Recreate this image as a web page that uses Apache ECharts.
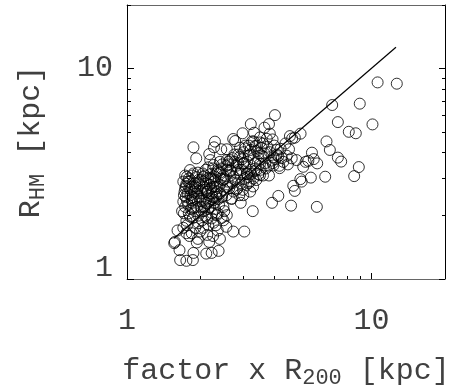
<!DOCTYPE html>
<html><head><meta charset="utf-8">
<script src="https://cdn.jsdelivr.net/npm/echarts@6/dist/echarts.min.js"></script>
<style>html,body{margin:0;padding:0;background:#fff}#c{width:454px;height:385px}</style>
</head><body><div id="c"></div>
<script>
// ---- data ----
const xVals = [
10.6,12.7,6.91,8.96,7.29,8.08,8.63,10.1,6.55,6.76,7.29,7.52,8.88,8.50,6.47,5.65,5.98,4.69,4.16,3.92,
4.86,4.79,5.18,5.12,3.27,3.02,3.81,4.03,3.21,3.81,3.65,3.31,2.97,3.84,3.94,3.73,3.50,4.64,4.86,5.13,
4.74,5.71,5.81,6.0,5.52,5.26,5.38,4.94,4.72,4.60,4.36,4.16,4.21,3.97,3.97,4.10,3.55,3.34,3.19,3.45,
3.61,3.50,3.39,3.50,3.29,3.14,3.19,2.99,2.92,2.68,2.81,2.72,2.77,2.29,2.27,2.43,2.17,1.87,1.92,3.04,
2.90,2.56,2.64,2.40,2.19,2.15,2.04,1.87,1.79,1.75,1.73,1.71,1.70,1.73,1.71,1.75,1.76,1.61,1.57,1.56,
1.64,1.65,1.75,1.86,1.87,1.93,1.84,1.99,2.11,2.22,2.37,2.17,2.13,2.31,2.55,2.72,2.56,2.48,2.33,2.22,
2.09,1.96,2.02,2.12,2.26,2.40,2.56,2.48,2.33,2.22,2.06,1.93,1.84,1.87,1.81,1.84,1.96,2.12,2.29,2.72,
2.85,2.99,3.09,2.64,2.44,2.26,2.56,1.81,1.76,
1.72,1.74,1.78,1.80,1.82,1.85,1.88,1.90,1.92,1.95,1.97,2.00,2.02,2.05,2.08,2.10,2.12,2.15,2.18,2.20,
2.22,2.25,2.28,2.30,2.33,2.36,2.40,2.42,2.45,2.48,2.50,2.55,2.58,2.60,2.65,2.70,2.75,2.80,2.85,2.90,
2.95,3.00,3.05,3.10,3.15,3.20,3.25,3.30,3.35,3.40,3.45,3.55,3.60,3.65,3.70,3.75,3.85,3.90,4.00,4.10,
4.25,4.30,4.45,4.50,4.55,
1.68,1.70,1.73,1.76,1.79,1.83,1.86,1.89,1.93,1.96,1.99,2.03,2.06,2.09,2.13,2.16,2.19,2.23,2.26,2.29,
2.32,2.35,2.38,2.44,2.50,1.70,1.75,1.80,1.90,1.95,2.05,2.15,2.25,2.35,2.40,2.48,
1.80,1.85,1.90,1.95,2.00,2.05,2.10,2.15,2.20,2.25,2.30,2.35,2.40,2.45,2.50,2.55,2.60,2.65,2.70,2.75,
2.80,2.85,2.90,2.95,3.00,3.05,3.10,3.15,3.20,3.30,3.40,3.50,
2.55,2.62,2.68,2.73,2.78,2.83,2.88,2.93,2.98,3.03,3.08,3.12,3.18,3.22,3.28,3.32,3.38,3.45,3.52,3.60,
3.68,3.80,3.95,4.05,4.20,
1.78,1.82,1.86,1.90,1.94,1.98,2.01,2.04,2.07,2.11,2.14,2.17,2.21,2.24,2.27,2.31,2.34,2.37,1.74,1.77
];
const yVals = [
8.58,8.46,6.70,6.80,5.56,5.00,4.92,5.42,4.50,4.10,3.77,3.61,3.40,3.08,3.06,3.03,2.20,2.23,2.48,2.30,
2.62,2.77,2.90,2.98,2.10,1.68,3.10,6.00,5.44,5.44,5.23,4.95,4.92,4.90,4.60,4.63,4.70,4.77,4.69,4.90,
4.65,3.98,3.71,3.54,3.64,3.41,3.60,3.67,3.74,4.13,3.60,3.83,3.36,3.46,3.78,4.10,4.19,4.28,3.90,3.74,
3.81,3.52,3.29,3.11,3.00,2.85,2.60,2.50,2.30,2.41,2.66,4.62,4.52,4.49,4.22,4.13,3.92,4.22,3.74,4.17,
3.81,4.13,3.67,3.60,3.67,3.39,3.17,3.17,3.00,2.83,2.69,2.50,2.33,2.20,2.05,1.89,1.80,1.70,1.50,1.48,
1.37,1.23,1.22,1.23,1.33,1.49,1.65,1.68,1.32,1.33,1.36,1.50,1.62,1.80,1.77,1.68,2.01,2.20,2.01,1.94,
1.98,1.84,2.09,2.29,2.37,2.55,2.74,2.95,3.17,2.95,2.74,2.55,2.37,2.17,1.98,2.74,2.95,2.59,2.74,3.06,
3.29,3.52,3.17,3.29,3.35,3.48,3.67,3.29,3.06,
2.60,2.45,2.90,2.70,2.50,2.30,2.60,2.85,3.05,2.70,2.45,2.20,2.55,2.90,3.10,2.65,2.40,2.15,2.80,3.00,
2.55,2.75,2.30,2.95,2.60,3.25,2.80,3.00,2.45,3.10,2.65,3.30,2.90,3.50,3.10,2.85,3.60,3.45,3.90,3.15,
3.70,4.00,3.40,3.60,4.30,3.30,4.50,3.75,3.55,4.05,3.95,3.85,4.40,3.95,3.35,4.25,4.00,3.65,4.30,3.90,
4.15,3.75,4.40,3.85,3.50,
2.10,2.90,3.10,2.35,2.05,2.15,1.95,2.40,2.20,2.00,2.35,1.90,2.10,2.30,1.95,2.50,2.20,2.05,1.85,2.15,
2.45,2.05,2.25,1.95,2.10,1.75,1.65,1.60,1.75,1.55,1.75,1.80,1.60,1.70,1.55,1.90,
2.90,3.10,2.75,3.20,2.95,3.05,3.30,3.00,3.15,3.35,3.05,3.30,3.20,3.50,3.00,3.45,3.60,3.25,3.75,3.90,
3.20,3.55,4.20,3.30,3.55,4.30,3.15,3.85,4.10,4.50,4.30,4.45,
2.50,2.70,2.40,2.60,2.95,2.70,2.50,2.85,2.65,3.00,2.80,3.05,2.90,3.15,2.75,3.25,2.95,3.15,3.30,3.10,
3.55,3.45,3.55,3.70,3.45,
2.25,2.65,2.45,2.10,2.60,2.80,2.40,2.65,2.20,2.85,2.60,2.35,2.70,2.45,2.90,2.55,2.75,2.40,2.75,2.55
];
const lineX = [1.56, 12.6];
const lineY = [1.56, 12.6];
const majorTicks = [1, 10];
const minorTicks = [2, 3, 4, 5, 6, 7, 8, 9, 20];
const xTitle = '{a|factor x R}{s|200}{a| [kpc]}';
const yTitle = '{a|R}{s|HM}{a| [kpc]}';

// ---- chart ----
const FONT = 'Liberation Mono';
const TXT = '#404040';
const chart = echarts.init(document.getElementById('c'), null, {renderer: 'canvas'});
const scatterData = xVals.map((x, i) => [x, yVals[i]]);
const lineData = lineX.map((x, i) => [x, lineY[i]]);

function baseAxis(extra) {
  return Object.assign({
    type: 'log', logBase: 10, min: 1, max: 20,
    splitLine: {show: false}, minorTick: {show: false}, minorSplitLine: {show: false}
  }, extra);
}
const richTitle = {
  a: {fontFamily: FONT, fontSize: 30, color: TXT, lineHeight: 36},
  s: {fontFamily: FONT, fontSize: 22, color: TXT, lineHeight: 22, verticalAlign: 'bottom'}
};

const option = {
  animation: false,
  backgroundColor: '#fff',
  grid: {left: 127, right: 9, top: 5, bottom: 106, containLabel: false, outerBoundsMode: 'none'},
  xAxis: [
    baseAxis({position: 'bottom',
      axisLine: {show: true, lineStyle: {color: '#666', width: 1}},
      axisTick: {show: true, inside: true, length: 6, customValues: majorTicks, lineStyle: {color: '#000'}},
      axisLabel: {show: true, customValues: majorTicks, margin: 27, fontFamily: FONT, fontSize: 30, color: TXT},
      name: xTitle, nameLocation: 'middle', nameGap: 74,
      nameTextStyle: {rich: richTitle}}),
    baseAxis({position: 'bottom',
      axisLine: {show: false},
      axisTick: {show: true, inside: true, length: 3, customValues: minorTicks, lineStyle: {color: '#000'}},
      axisLabel: {show: false}}),
    baseAxis({position: 'top',
      axisLine: {show: true, lineStyle: {color: '#666', width: 1}},
      axisTick: {show: false}, axisLabel: {show: false}})
  ],
  yAxis: [
    baseAxis({position: 'left',
      axisLine: {show: true, lineStyle: {color: '#000', width: 1}},
      axisTick: {show: true, inside: true, length: 7, customValues: majorTicks, lineStyle: {color: '#000'}},
      axisLabel: {show: true, customValues: majorTicks, margin: 14, fontFamily: FONT, fontSize: 30, color: TXT,
        formatter: v => (v === 1 ? '{o|1}' : String(v)),
        rich: {o: {fontFamily: FONT, fontSize: 30, color: TXT, padding: [0, 0, 22, 0]}}},
      name: yTitle, nameLocation: 'middle', nameGap: 78, nameRotate: 90,
      nameTextStyle: {rich: richTitle}}),
    baseAxis({position: 'left',
      axisLine: {show: false},
      axisTick: {show: true, inside: true, length: 4, customValues: minorTicks, lineStyle: {color: '#000'}},
      axisLabel: {show: false}}),
    baseAxis({position: 'right',
      axisLine: {show: true, lineStyle: {color: '#000', width: 1}},
      axisTick: {show: true, inside: true, length: 6, customValues: majorTicks, lineStyle: {color: '#000'}},
      axisLabel: {show: false}}),
    baseAxis({position: 'right',
      axisLine: {show: false},
      axisTick: {show: true, inside: true, length: 3, customValues: minorTicks, lineStyle: {color: '#000'}},
      axisLabel: {show: false}})
  ],
  series: [
    {type: 'scatter', xAxisIndex: 0, yAxisIndex: 0, data: scatterData,
      symbol: 'circle', symbolSize: 11,
      itemStyle: {color: 'rgba(0,0,0,0)', borderColor: '#000', borderWidth: 1}},
    {type: 'line', xAxisIndex: 0, yAxisIndex: 0, data: lineData, showSymbol: false, symbol: 'none',
      lineStyle: {color: '#000', width: 1.2}}
  ]
};
chart.setOption(option);
</script>
</body></html>
